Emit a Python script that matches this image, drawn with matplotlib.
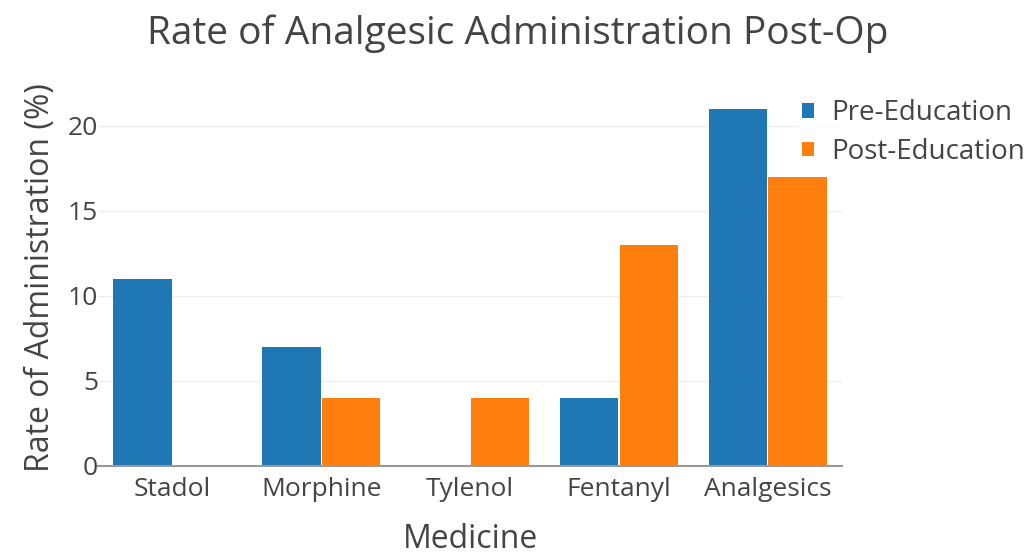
import matplotlib.pyplot as plt
import numpy as np

plt.rcParams['font.family'] = ['Open Sans', 'DejaVu Sans']

medicines = ['Stadol', 'Morphine', 'Tylenol', 'Fentanyl', 'Analgesics']
pre_education = [11, 7, 0, 4, 21]
post_education = [0, 4, 4, 13, 17]

blue = '#1f77b4'
orange = '#ff7f0e'
text_col = '#444444'

fig = plt.figure(figsize=(10.35, 5.58), dpi=100)
ax = fig.add_axes([0.0947, 0.165, 0.719, 0.674])

x = np.arange(len(medicines))
w = 0.4
ax.bar(x - w / 2, pre_education, width=w * 0.98, color=blue, label='Pre-Education', zorder=3)
ax.bar(x + w / 2, post_education, width=w * 0.98, color=orange, label='Post-Education', zorder=3)

ax.set_xlim(-0.5, 4.5)
ax.set_ylim(0, 22.1)
ax.set_yticks([0, 5, 10, 15, 20])
ax.set_xticks(x)
ax.set_xticklabels(medicines)
ax.tick_params(axis='both', length=0, labelsize=19, labelcolor=text_col)
ax.tick_params(axis='x', pad=8)
ax.tick_params(axis='y', pad=0)
ax.grid(axis='y', color='#eeeeee', linewidth=1, zorder=0)

for s in ['top', 'right', 'left']:
    ax.spines[s].set_visible(False)
ax.spines['bottom'].set_color('#999999')
ax.spines['bottom'].set_linewidth(1.5)
ax.spines['bottom'].set_zorder(4)

ax.set_xlabel('Medicine', fontsize=23, color=text_col, labelpad=15)
ax.set_ylabel('Rate of Administration (%)', fontsize=23, color=text_col, labelpad=8)
fig.text(0.5, 0.94, 'Rate of Analgesic Administration Post-Op', fontsize=28,
         color=text_col, ha='center', va='center')

leg = fig.legend(loc='upper left', bbox_to_anchor=(0.772, 0.827), frameon=True,
                 fontsize=20, handlelength=0.45, handleheight=0.45,
                 handletextpad=0.6, labelspacing=0.38, borderpad=0.1,
                 borderaxespad=0)
leg.get_frame().set_facecolor('white')
leg.get_frame().set_edgecolor('white')
for t in leg.get_texts():
    t.set_color(text_col)

fig.savefig('out.png', dpi=100)
